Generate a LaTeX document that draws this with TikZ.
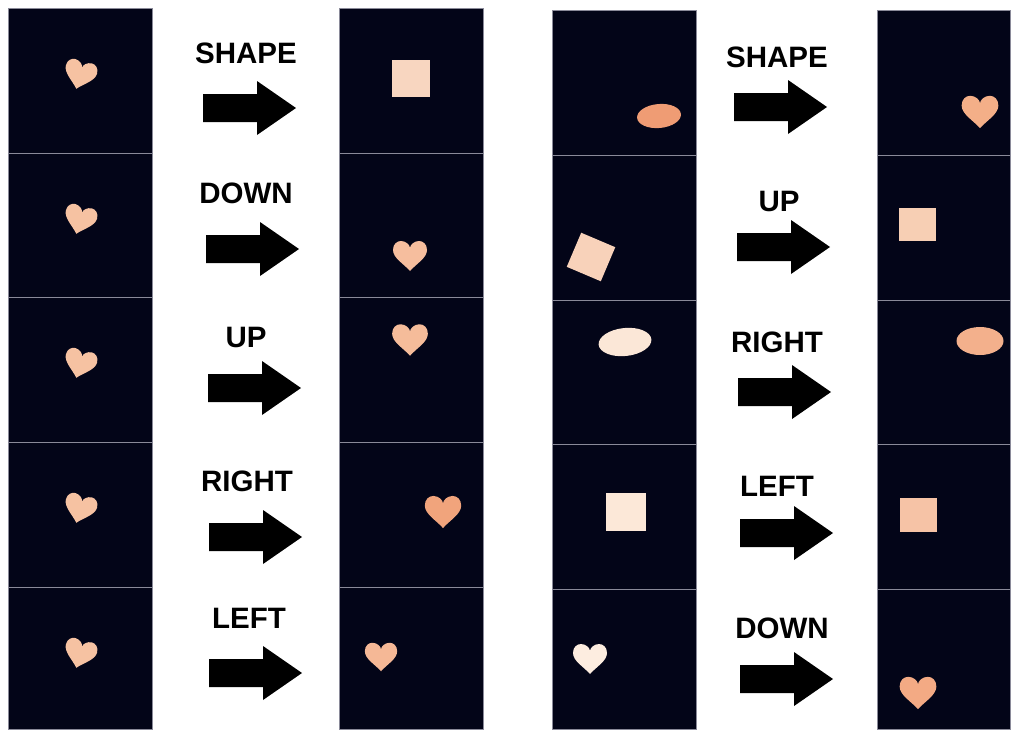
\documentclass[tikz,border=0pt]{standalone}
\usepackage{fontspec}
\setmainfont{Liberation Sans}
\usepackage{tikz}

\definecolor{navy}{HTML}{030518}
\definecolor{edgegray}{HTML}{8A8A99}
\definecolor{peach}{HTML}{F6C2A2}
\definecolor{peachsq}{HTML}{F8D6C0}
\definecolor{peachB}{HTML}{F6BE9E}
\definecolor{peachC}{HTML}{F5BC9A}
\definecolor{coral}{HTML}{F1A47C}
\definecolor{peachD}{HTML}{F5B896}
\definecolor{salmon}{HTML}{EF9C74}
\definecolor{blush}{HTML}{F8D2BA}
\definecolor{cream}{HTML}{FBE7D7}
\definecolor{creamB}{HTML}{FCE8D8}
\definecolor{ivory}{HTML}{FDEDE0}
\definecolor{apricot}{HTML}{F4AF88}
\definecolor{blushB}{HTML}{F7CFB4}
\definecolor{apricotB}{HTML}{F3B08C}
\definecolor{peachE}{HTML}{F6C3A6}
\definecolor{apricotC}{HTML}{F3AA84}

\tikzset{
  tile/.style={fill=navy, draw=edgegray, line width=0.7pt},
  lbl/.style={font=\fontsize{29.5}{30}\selectfont\bfseries, inner sep=0pt},
  heart/.pic={\path[pic actions] (0,15) .. controls (-6,8) and (-17,2) .. (-17,-6)
     .. controls (-17,-12) and (-13,-15) .. (-9,-15) .. controls (-4,-15) and (0,-11) .. (0,-8)
     .. controls (0,-11) and (4,-15) .. (9,-15) .. controls (13,-15) and (17,-12) .. (17,-6)
     .. controls (17,2) and (6,8) .. (0,15) -- cycle;},
  blockarrow/.pic={\fill (0,-14) -- (54,-14) -- (54,-27) -- (93,0) -- (54,27) -- (54,14) -- (0,14) -- cycle;}
}

\begin{document}
\begin{tikzpicture}[x=1pt, y=-1pt]
    \useasboundingbox (0,0) rectangle (1011,729);
    % Image tiles
    \draw[tile] (8,8) rectangle (152,153) (8,153) rectangle (152,297) (8,297) rectangle (152,442)
        (8,442) rectangle (152,587) (8,587) rectangle (152,729);
    \draw[tile] (339,8) rectangle (483,153) (339,153) rectangle (483,297) (339,297) rectangle (483,442)
        (339,442) rectangle (483,587) (339,587) rectangle (483,729);
    \draw[tile] (552,10) rectangle (696,155) (552,155) rectangle (696,300) (552,300) rectangle (696,444)
        (552,444) rectangle (696,589) (552,589) rectangle (696,729);
    \draw[tile] (877,10) rectangle (1010,155) (877,155) rectangle (1010,300) (877,300) rectangle (1010,444)
        (877,444) rectangle (1010,589) (877,589) rectangle (1010,729);
    % Left inputs
    \pic[fill=peach, scale=0.95, rotate=-15] at (80,75) {heart};
    \pic[fill=peach, scale=0.95, rotate=-15] at (80,220) {heart};
    \pic[fill=peach, scale=0.95, rotate=-15] at (80,364) {heart};
    \pic[fill=peach, scale=0.95, rotate=-15] at (80,509) {heart};
    \pic[fill=peach, scale=0.95, rotate=-15] at (80,654) {heart};
    % Left outputs
    \fill[peachsq] (392,60) rectangle (430,97);
    \pic[fill=peachB, scale=1.0] at (410,256) {heart};
    \pic[fill=peachC, scale=1.05] at (410,340) {heart};
    \pic[fill=coral, scale=1.07] at (443,512) {heart};
    \pic[fill=peachD, scale=0.95] at (381,657) {heart};
    % Right inputs
    \fill[salmon, rotate around={5:(659,116)}] (659,116) ellipse (22 and 12);
    \fill[blush, rotate around={-23:(591,257)}] (572.5,238.5) rectangle (609.5,275.5);
    \fill[cream, rotate around={6:(625,342)}] (625,342) ellipse (26.5 and 14);
    \fill[creamB] (606,493) rectangle (646,531);
    \pic[fill=ivory, scale=1.0] at (590,659) {heart};
    % Right outputs
    \pic[fill=apricot, scale=1.08] at (980,112) {heart};
    \fill[blushB] (899,208) rectangle (936,241);
    \fill[apricotB] (980,341) ellipse (23.5 and 14);
    \fill[peachE] (900,498) rectangle (937,532);
    \pic[fill=apricotC, scale=1.08] at (918,693) {heart};
    % Labels
    \node[lbl] (l1) at (246,53) {SHAPE};
    \node[lbl] (l2) at (246,193) {DOWN};
    \node[lbl] (l3) at (246,337) {UP};
    \node[lbl] (l4) at (247,481) {RIGHT};
    \node[lbl] (l5) at (249,618) {LEFT};
    \node[lbl] (r1) at (777,57) {SHAPE};
    \node[lbl] (r2) at (779,201) {UP};
    \node[lbl] (r3) at (777,342) {RIGHT};
    \node[lbl] (r4) at (777,486) {LEFT};
    \node[lbl] (r5) at (782,628) {DOWN};
    % Arrows
    \pic at (203,108) {blockarrow};
    \pic at (206,249) {blockarrow};
    \pic at (208,388) {blockarrow};
    \pic at (209,537) {blockarrow};
    \pic at (209,673) {blockarrow};
    \pic at (734,107) {blockarrow};
    \pic at (737,247) {blockarrow};
    \pic at (738,392) {blockarrow};
    \pic at (740,533) {blockarrow};
    \pic at (740,679) {blockarrow};
\end{tikzpicture}
\end{document}
